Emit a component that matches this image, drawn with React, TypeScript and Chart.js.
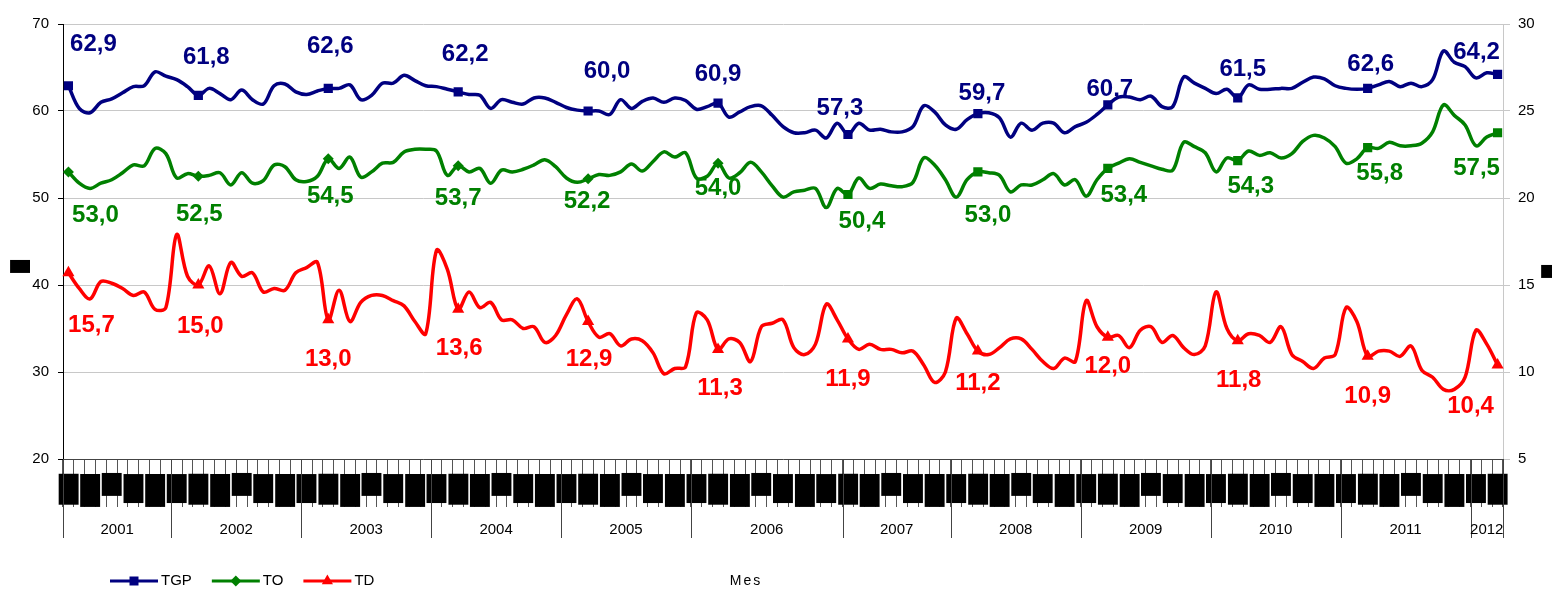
import React, { useEffect, useRef } from 'react';
import { Chart, registerables } from 'chart.js';

Chart.register(...registerables);

// ---------- DATA ----------
const MONTH_NAMES = ['Ene', 'Feb', 'Mar', 'Abr', 'May', 'Jun', 'Jul', 'Ago', 'Sep', 'Oct', 'Nov', 'Dic'];
const FIRST_MONTH = 2; // marzo 2001
const FIRST_YEAR = 2001;
const YEARS = ['2001', '2002', '2003', '2004', '2005', '2006', '2007', '2008', '2009', '2010', '2011', '2012'];
const YEAR_SPAN = [10, 12, 12, 12, 12, 14, 10, 12, 12, 12, 12, 3];
const MARK_EVERY = 12;

const TGP = [
  62.9, 60.3, 59.8, 61.0, 61.4, 62.1, 62.8, 62.9, 64.5, 64.0, 63.6, 62.8,
  61.8, 62.6, 62.0, 61.3, 62.4, 61.3, 60.8, 62.9, 63.1, 62.2, 61.9, 62.3,
  62.6, 62.6, 63.0, 61.3, 61.8, 63.2, 63.2, 64.1, 63.5, 62.9, 62.8, 62.5,
  62.2, 61.9, 61.8, 60.3, 61.3, 61.0, 60.8, 61.5, 61.5, 61.0, 60.4, 60.1,
  60.0, 60.0, 59.6, 61.3, 60.3, 61.1, 61.5, 61.0, 61.5, 61.2, 60.2, 60.5,
  60.9, 59.3, 59.9, 60.5, 60.6, 59.5, 58.2, 57.5, 57.5, 57.8, 56.9, 58.6,
  57.3, 58.6, 57.8, 57.9, 57.6, 57.6, 58.2, 60.6, 59.9, 58.4, 57.9, 59.0,
  59.7, 59.8, 59.2, 57.0, 58.6, 57.8, 58.6, 58.6, 57.5, 58.2, 58.7, 59.6,
  60.7, 61.6, 61.6, 61.3, 61.7, 60.5, 60.5, 63.9, 63.2, 62.6, 62.0, 62.5,
  61.5, 63.0, 62.5, 62.5, 62.6, 62.6, 63.3, 63.9, 63.7, 62.9, 62.6, 62.5,
  62.6, 63.0, 63.4, 62.8, 63.2, 62.8, 63.6, 66.9, 65.6, 65.1, 63.8, 64.4,
  64.2,
];

const TO = [
  53.0, 51.7, 51.1, 51.7, 52.1, 52.9, 53.8, 53.7, 55.7, 55.1, 52.3, 52.8,
  52.5, 52.6, 52.9, 51.5, 52.9, 51.7, 52.0, 53.8, 53.6, 52.1, 51.9, 52.5,
  54.5, 53.4, 54.7, 52.4, 53.0, 54.0, 54.1, 55.3, 55.6, 55.6, 55.4, 52.6,
  53.7, 53.0, 53.4, 51.7, 53.2, 53.0, 53.3, 53.8, 54.4, 53.6, 52.3, 51.8,
  52.2, 52.7, 52.6, 53.0, 53.9, 53.1, 54.2, 55.3, 54.7, 55.2, 52.3, 52.5,
  54.0, 52.3, 52.9, 54.1, 53.0, 51.4, 50.1, 50.7, 50.9, 51.1, 48.9, 51.1,
  50.4, 52.3, 51.1, 51.6, 51.4, 51.3, 51.8, 54.6, 53.8, 52.1, 50.1, 52.1,
  53.0, 52.9, 52.6, 50.7, 51.5, 51.5, 52.1, 52.8, 51.5, 52.1, 50.2, 52.1,
  53.4, 54.0, 54.5, 54.1, 53.7, 53.3, 53.2, 56.4, 55.9, 55.2, 53.0, 54.6,
  54.3, 55.4, 54.9, 55.2, 54.6, 55.1, 56.5, 57.2, 56.9, 55.9, 54.0, 54.5,
  55.8, 55.7, 56.4, 56.0, 56.0, 56.3, 57.6, 60.7, 59.5, 58.4, 56.0, 57.0,
  57.5,
];

const TD = [
  15.7, 14.8, 14.2, 15.2, 15.1, 14.8, 14.4, 14.6, 13.6, 13.7, 17.9, 15.5,
  15.0, 16.1, 14.5, 16.3, 15.5, 15.7, 14.6, 14.8, 14.7, 15.7, 16.0, 16.3,
  13.0, 14.7, 12.9, 14.0, 14.4, 14.4, 14.1, 13.8, 12.9, 12.2, 17.0, 15.9,
  13.6, 14.6, 13.7, 14.0, 13.0, 13.0, 12.5, 12.6, 11.7, 12.1, 13.3, 14.2,
  12.9, 12.0, 12.2, 11.5, 11.9, 11.8, 11.1, 9.9, 10.2, 10.3, 13.4, 13.0,
  11.3, 11.9, 11.7, 10.6, 12.6, 12.8, 13.0, 11.4, 11.0, 11.6, 13.9, 13.0,
  11.9, 11.3, 11.6, 11.3, 11.3, 11.1, 11.2, 10.4, 9.4, 10.0, 13.1, 12.2,
  11.2, 11.0, 11.4, 11.9, 11.9, 11.3, 10.6, 10.2, 10.8, 10.6, 14.1, 12.6,
  12.0, 12.1, 11.4, 12.4, 12.6, 11.7, 12.1, 11.4, 11.0, 11.5, 14.6, 12.5,
  11.8, 12.2, 12.1, 11.7, 12.6, 11.0, 10.6, 10.2, 10.8, 11.0, 13.7, 12.9,
  10.9, 11.2, 11.2, 10.9, 11.5, 10.1, 9.7, 9.0, 9.0, 9.7, 12.4, 11.6,
  10.4,
];

const CATEGORIES = TGP.map((_, i) => {
  const m = FIRST_MONTH + i;
  return `${MONTH_NAMES[m % 12]} ${FIRST_YEAR + Math.floor(m / 12)}`;
});

// ---------- STYLE ----------
const FONT = '"Liberation Sans", Arial, sans-serif';
const COLORS = ['#000080', '#008000', '#FF0000'];
// value-label offsets (text centre relative to marker), one pair per marked point
const LABEL_OFFSETS = [
  [[25, -43], [8, -40], [2, -44], [7, -39], [19, -42], [0, -31], [-8, -28], [4, -22], [2, -18], [5, -31], [3, -26], [-21, -24]],
  [[27, 41], [1, 36], [2, 36], [0, 31], [-1, 21], [0, 23], [14, 25], [10, 41], [16, 25], [13, 24], [12, 24], [-21, 34]],
  [[23, 51], [2, 39], [0, 38], [1, 37], [1, 36], [2, 37], [0, 38], [0, 30], [0, 27], [1, 38], [0, 38], [-27, 39]],
];
// heights of the month label blocks by calendar month (odd months shown)
const MONTH_BLOCK_H: Record<number, number> = { 0: 29, 2: 31, 4: 33, 6: 23, 8: 29, 10: 33 };

function drawBlockGlyph(ctx: CanvasRenderingContext2D, x: number, y: number, w: number, h: number) {
  ctx.save();
  ctx.font = '100px "DejaVu Sans"';
  ctx.textAlign = 'left';
  ctx.textBaseline = 'alphabetic';
  const m = ctx.measureText('█');
  const gw = (m.actualBoundingBoxLeft + m.actualBoundingBoxRight) || 60;
  const gh = (m.actualBoundingBoxAscent + m.actualBoundingBoxDescent) || 116;
  ctx.translate(x, y);
  ctx.scale(w / gw, h / gh);
  ctx.fillStyle = '#000';
  ctx.fillText('█', m.actualBoundingBoxLeft, m.actualBoundingBoxAscent);
  ctx.restore();
}

function fmt(v: number) {
  return v.toFixed(1).replace('.', ',');
}

const valueLabels = {
  id: 'valueLabels',
  afterDatasetsDraw(chart: any) {
    const ctx = chart.ctx as CanvasRenderingContext2D;
    ctx.save();
    ctx.font = `bold 24px ${FONT}`;
    ctx.textAlign = 'center';
    ctx.textBaseline = 'alphabetic';
    chart.data.datasets.forEach((ds: any, di: number) => {
      const meta = chart.getDatasetMeta(di);
      let k = 0;
      ds.data.forEach((v: number, i: number) => {
        if (i % MARK_EVERY !== 0) return;
        const el = meta.data[i];
        const off = LABEL_OFFSETS[di][k++] || [0, 0];
        ctx.fillStyle = COLORS[di];
        ctx.fillText(fmt(v), el.x + off[0], el.y + off[1] + 8.6);
      });
    });
    ctx.restore();
  },
};

function drawMarker(ctx: CanvasRenderingContext2D, style: string, x: number, y: number, color: string) {
  ctx.fillStyle = color;
  ctx.beginPath();
  if (style === 'rect') {
    ctx.rect(x - 4.5, y - 4.5, 9, 9);
  } else if (style === 'rectRot') {
    ctx.moveTo(x, y - 5.5);
    ctx.lineTo(x + 5.5, y);
    ctx.lineTo(x, y + 5.5);
    ctx.lineTo(x - 5.5, y);
  } else {
    ctx.moveTo(x, y - 6.5);
    ctx.lineTo(x + 5.6, y + 3.3);
    ctx.lineTo(x - 5.6, y + 3.3);
  }
  ctx.closePath();
  ctx.fill();
}

const decor = {
  id: 'decor',
  afterDraw(chart: any) {
    const ctx = chart.ctx as CanvasRenderingContext2D;
    const xs = chart.scales.x;
    const area = chart.chartArea;
    const half = (xs.getPixelForValue(1) - xs.getPixelForValue(0)) / 2;
    const axisY = area.bottom;

    // month label blocks
    for (let i = 0; i < CATEGORIES.length; i += 2) {
      const cal = (FIRST_MONTH + i) % 12;
      const h = MONTH_BLOCK_H[cal] ?? 30;
      const cx = xs.getPixelForValue(i);
      drawBlockGlyph(ctx, cx - 10, axisY + (cal === 6 ? 14 : 15), 20, h);
    }

    // year dividers + labels
    ctx.save();
    ctx.strokeStyle = '#444';
    ctx.lineWidth = 1;
    ctx.fillStyle = '#000';
    ctx.font = `15px ${FONT}`;
    ctx.textAlign = 'center';
    ctx.textBaseline = 'alphabetic';
    let start = 0;
    YEARS.forEach((yr, k) => {
      const end = start + YEAR_SPAN[k];
      const x0 = xs.getPixelForValue(start) - half;
      const x1 = xs.getPixelForValue(end - 1) + half;
      ctx.beginPath();
      ctx.moveTo(Math.round(x0) + 0.5, axisY);
      ctx.lineTo(Math.round(x0) + 0.5, axisY + 79);
      ctx.stroke();
      if (k === YEARS.length - 1) {
        ctx.beginPath();
        ctx.moveTo(Math.round(x1) + 0.5, axisY);
        ctx.lineTo(Math.round(x1) + 0.5, axisY + 79);
        ctx.stroke();
      }
      ctx.fillText(yr, (x0 + x1) / 2, axisY + 75);
      start = end;
    });
    ctx.restore();

    // axis titles (rendered as blocks in the source)
    drawBlockGlyph(ctx, area.left - 53, area.top + 236, 20, 13);
    drawBlockGlyph(ctx, area.right + 38, area.top + 241, 14, 13);

    // x-axis title
    ctx.save();
    ctx.fillStyle = '#000';
    ctx.font = `14px ${FONT}`;
    (ctx as any).letterSpacing = '2px';
    ctx.textAlign = 'center';
    ctx.fillText('Mes', 746, axisY + 126);
    ctx.restore();

    // legend
    ctx.save();
    ctx.font = `15px ${FONT}`;
    ctx.textBaseline = 'alphabetic';
    ctx.textAlign = 'left';
    let lx = 110;
    const ly = axisY + 126;
    chart.data.datasets.forEach((ds: any, di: number) => {
      ctx.strokeStyle = COLORS[di];
      ctx.lineWidth = 3;
      ctx.beginPath();
      ctx.moveTo(lx, ly - 4);
      ctx.lineTo(lx + 48, ly - 4);
      ctx.stroke();
      drawMarker(ctx, di === 0 ? 'rect' : di === 1 ? 'rectRot' : 'triangle', lx + 24, ly - 4, COLORS[di]);
      ctx.fillStyle = '#000';
      ctx.fillText(ds.label, lx + 51, ly);
      lx += 51 + ctx.measureText(ds.label).width + 20;
    });
    ctx.restore();
  },
};

export default function App() {
  const ref = useRef<HTMLCanvasElement>(null);
  useEffect(() => {
    const canvas = ref.current;
    if (!canvas) return;
    const isMark = (c: any) => c.dataIndex % MARK_EVERY === 0;
    const chart = new Chart(canvas, {
      type: 'line',
      data: {
        labels: CATEGORIES,
        datasets: [
          {
            label: 'TGP', data: TGP, yAxisID: 'y',
            borderColor: COLORS[0], backgroundColor: COLORS[0], borderWidth: 3.5,
            pointStyle: 'rect', pointRadius: (c: any) => (isMark(c) ? 6.5 : 0), pointBorderWidth: 0,
            pointHoverRadius: 0, tension: 0.35,
          },
          {
            label: 'TO', data: TO, yAxisID: 'y',
            borderColor: COLORS[1], backgroundColor: COLORS[1], borderWidth: 3.5,
            pointStyle: (c: any) => (c.dataIndex <= 60 ? 'rectRot' : 'rect'),
            pointRadius: (c: any) => (isMark(c) ? (c.dataIndex <= 60 ? 5.5 : 6.5) : 0), pointBorderWidth: 0,
            pointHoverRadius: 0, tension: 0.35,
          },
          {
            label: 'TD', data: TD, yAxisID: 'y1',
            borderColor: COLORS[2], backgroundColor: COLORS[2], borderWidth: 3.5,
            pointStyle: 'triangle', pointRadius: (c: any) => (isMark(c) ? 7 : 0), pointBorderWidth: 0,
            pointHoverRadius: 0, tension: 0.35,
          },
        ],
      },
      options: {
        responsive: false,
        animation: false,
        events: [],
        layout: { padding: { top: 24, left: 0, right: 0, bottom: 0 } },
        plugins: { legend: { display: false }, tooltip: { enabled: false } },
        scales: {
          x: {
            type: 'category',
            offset: true,
            grid: { offset: true, drawOnChartArea: false, drawTicks: true, tickLength: 48, color: '#555', tickColor: '#555' },
            border: { display: true, color: '#444' },
            ticks: { display: false, autoSkip: false },
            afterFit: (s: any) => { s.height = 131; },
          },
          y: {
            position: 'left', min: 20, max: 70,
            ticks: { stepSize: 10, color: '#000', font: { family: FONT, size: 15 }, padding: 9 },
            grid: { color: '#c8c8c8', tickColor: '#000', tickLength: 5 },
            border: { color: '#000' },
            afterFit: (s: any) => { s.width = 63; },
          },
          y1: {
            position: 'right', min: 5, max: 30,
            ticks: { stepSize: 5, color: '#000', font: { family: FONT, size: 15 }, padding: 8 },
            grid: { drawOnChartArea: false, tickColor: '#c8c8c8', tickLength: 7 },
            border: { color: '#c8c8c8' },
            afterFit: (s: any) => { s.width = 49; },
          },
        },
      } as any,
      plugins: [valueLabels, decor],
    });
    return () => chart.destroy();
  }, []);

  return (
    <div style={{ position: 'absolute', left: 0, top: 0, width: 1552, height: 590, background: '#fff' }}>
      <canvas ref={ref} width={1552} height={590} style={{ display: 'block' }} />
    </div>
  );
}
